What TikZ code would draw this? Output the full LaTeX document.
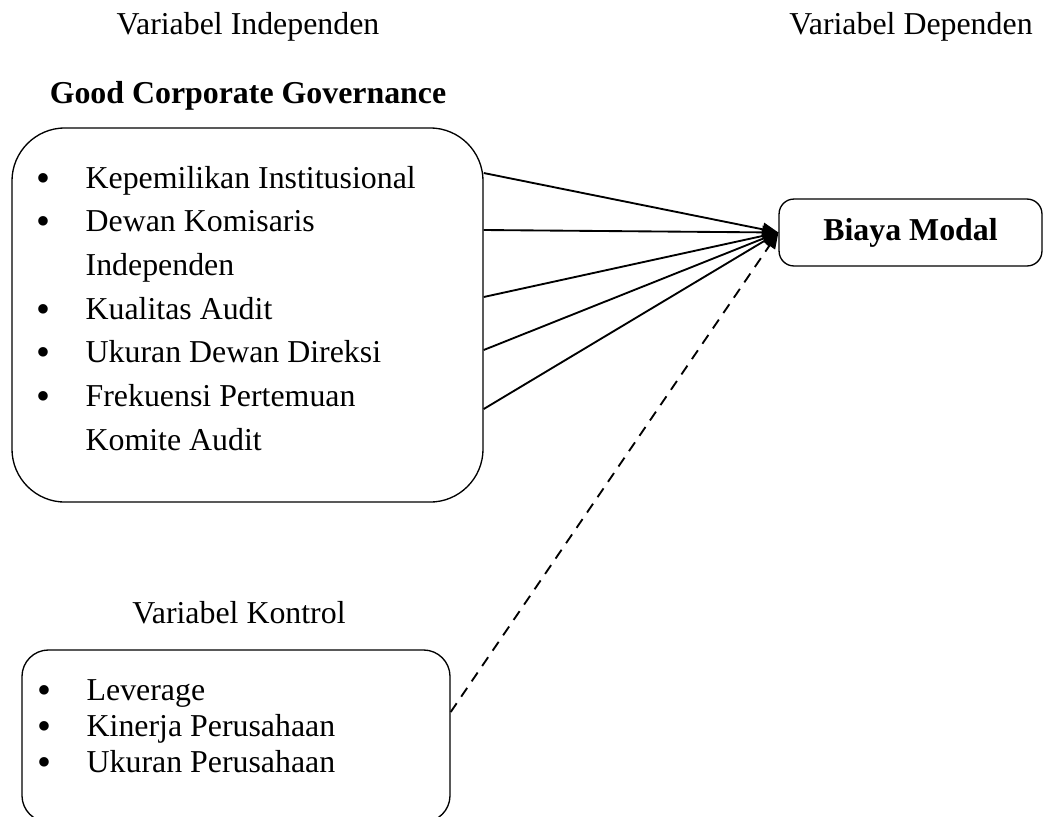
\documentclass[tikz,border=0pt]{standalone}
\usepackage{fontspec}
\setmainfont{Liberation Serif}
\usetikzlibrary{arrows.meta}

\newcommand{\blt}{\raisebox{-1.2pt}{\fontsize{15}{15}\selectfont\textbullet}}

\begin{document}
\begin{tikzpicture}[x=0.3766pt,y=-0.3766pt,
        font=\fontsize{12}{14}\selectfont,
        box/.style={draw,line width=0.5pt,inner sep=0pt},
        lst/.style={anchor=base west,inner sep=0pt,align=left},
        head/.style={anchor=base,inner sep=0pt},
        arr/.style={line width=0.7pt,-{Triangle[length=6pt,width=5pt]}}
    ]
    \useasboundingbox (0,0) rectangle (1044,816);
    % titles
    \node[head] (indep) at (248,34) {Variabel Independen};
    \node[head] (dep) at (911,34) {Variabel Dependen};
    \node[head] (gcgtitle) at (248,103) {\bfseries Good Corporate Governance};
    \node[head] (kontrol) at (239,623) {Variabel Kontrol};
    % boxes
    \node[box,rounded corners=20pt,minimum width=177.4pt,minimum height=140.9pt] (gcg) at (247.5,315) {};
    \node[box,rounded corners=5.6pt,minimum width=99pt,minimum height=25.2pt,font=\fontsize{12}{14}\selectfont\bfseries] (biaya) at (910.5,232.5) {Biaya Modal};
    \node[box,rounded corners=10pt,minimum width=161.2pt,minimum height=64.8pt] (ctrl) at (236,736) {};
    % lists
    \node[lst,font=\fontsize{12}{16.45}\selectfont] (gcglist) at (36,188) {%
        \begin{tabular}[t]{@{}p{18.5pt}@{}l@{}}
            \blt & Kepemilikan Institusional\\
            \blt & Dewan Komisaris\\
                 & Independen\\
            \blt & Kualitas Audit\\
            \blt & Ukuran Dewan Direksi\\
            \blt & Frekuensi Pertemuan\\
                 & Komite Audit
        \end{tabular}};
    \node[lst,font=\fontsize{12}{13.56}\selectfont] (ctrllist) at (37,700) {%
        \begin{tabular}[t]{@{}p{18.5pt}@{}l@{}}
            \blt & Leverage\\
            \blt & Kinerja Perusahaan\\
            \blt & Ukuran Perusahaan
        \end{tabular}};
    % arrows
    \foreach \yy in {173,230,297,350,409}
        \draw[arr] (gcg.east |- 0,\yy) -- (biaya.west);
    \draw[arr,dash pattern=on 4pt off 3pt] (ctrl.east |- 0,712) -- (biaya.west);
\end{tikzpicture}
\end{document}
